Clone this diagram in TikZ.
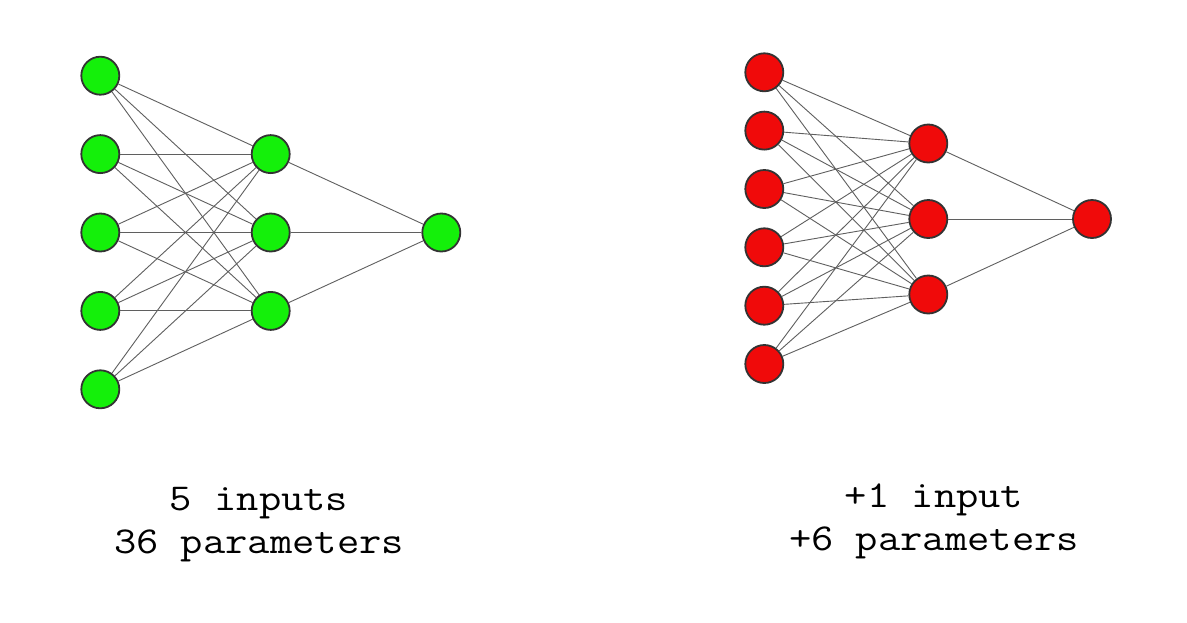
\documentclass[tikz,border=0pt]{standalone}
\usepackage{fontspec}
\newfontfamily\capfont[FakeStretch=1.14]{Latin Modern Mono}
\definecolor{ngreen}{RGB}{20,240,10}
\definecolor{nred}{RGB}{240,10,10}
\definecolor{nborder}{RGB}{51,51,51}
\definecolor{edgegray}{RGB}{95,95,95}
\begin{document}
\begin{tikzpicture}[x=1pt,y=-1pt,
  neuron/.style={circle,draw=nborder,line width=1.8pt,minimum size=38pt,inner sep=0pt},
  gneuron/.style={neuron,fill=ngreen},
  rneuron/.style={neuron,fill=nred},
  conn/.style={draw=edgegray,line width=0.9pt},
  caption/.style={font=\capfont\fontsize{38}{43}\selectfont,anchor=base,inner sep=0pt}]
\fill[white] (0,0) rectangle (1187,622);
\useasboundingbox (0,0) rectangle (1187,622);
% left network
\foreach \i/\y in {1/75.7,2/154.1,3/232.5,4/310.9,5/389.3}
  \node[gneuron] (li\i) at (100.3,\y) {};
\foreach \j/\y in {1/154.1,2/232.5,3/310.9}
  \node[gneuron] (lh\j) at (270.7,\y) {};
\node[gneuron] (lo) at (441.3,232.5) {};
\foreach \i in {1,...,5}
  \foreach \j in {1,2,3}
    \draw[conn] (li\i) -- (lh\j);
\foreach \j in {1,2,3}
  \draw[conn] (lh\j) -- (lo);
% right network
\foreach \i/\y in {1/72.3,2/130.6,3/189,4/247.3,5/305.7,6/364}
  \node[rneuron] (ri\i) at (764.3,\y) {};
\foreach \j/\y in {1/143.5,2/219,3/294.5}
  \node[rneuron] (rh\j) at (928.3,\y) {};
\node[rneuron] (ro) at (1092,219) {};
\foreach \i in {1,...,6}
  \foreach \j in {1,2,3}
    \draw[conn] (ri\i) -- (rh\j);
\foreach \j in {1,2,3}
  \draw[conn] (rh\j) -- (ro);
% captions
\node[caption] (lc1) at (259,510) {5 inputs};
\node[caption] (lc2) at (259,553) {36 parameters};
\node[caption] (rc1) at (934,507) {+1 input};
\node[caption] (rc2) at (934,550) {+6 parameters};
\end{tikzpicture}
\end{document}
